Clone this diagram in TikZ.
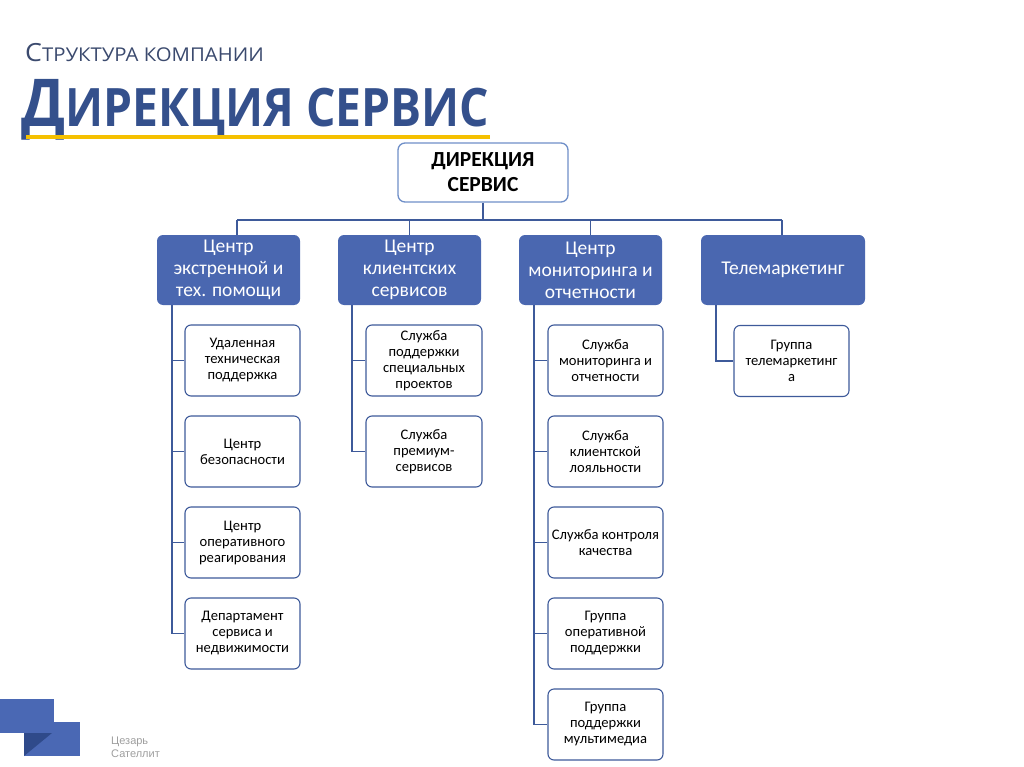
\documentclass[tikz,border=0pt]{standalone}
\usepackage{graphicx}
\usepackage{fontspec}
\setmainfont{Carlito}
\newfontfamily\titlefont{Open Sans}
\newfontfamily\logofont{Liberation Sans}
\definecolor{lvlblue}{HTML}{4A67B0}
\definecolor{linecol}{HTML}{3E5A9A}
\definecolor{topline}{HTML}{6F8FC8}
\definecolor{titleblue}{HTML}{34508C}
\definecolor{subtitle}{HTML}{3B4A6E}
\definecolor{yellowbar}{HTML}{F5C000}
\definecolor{logoA}{HTML}{4A68B4}
\definecolor{logoB}{HTML}{2F4A8A}
\begin{document}
\begin{tikzpicture}[x=1pt,y=-1pt,
  topbox/.style={draw=topline, line width=1.3pt, rounded corners=7pt, fill=white, align=center,
    minimum width=170pt, minimum height=59pt, inner sep=0pt,
    font=\fontsize{21.5}{25}\selectfont\bfseries},
  lvlbox/.style={fill=lvlblue, rounded corners=6pt, text=white, align=center,
    minimum height=70pt, inner sep=0pt, font=\fontsize{19.5}{22}\selectfont},
  kidbox/.style={draw=linecol, line width=1.1pt, rounded corners=6pt, fill=white, align=center,
    minimum width=115pt, minimum height=71pt, inner sep=0pt, font=\fontsize{14.6}{16}\selectfont},
  conn/.style={draw=linecol, line width=1.3pt}]
\useasboundingbox (0,0) rectangle (1024,767);

% title
\node[anchor=base west, inner sep=0pt, text=subtitle, font=\titlefont] (t1) at (25,62)
  {\scalebox{1.07}[1]{{\fontsize{25}{25}\selectfont С}{\fontsize{19}{19}\selectfont ТРУКТУРА КОМПАНИИ}}};
\node[anchor=base west, inner sep=0pt, text=titleblue, font=\titlefont\bfseries] (t2) at (21,127)
  {\scalebox{0.873}[1]{{\fontsize{66}{66}\selectfont Д}{\fontsize{53}{53}\selectfont ИРЕКЦИЯ СЕРВИС}}};
\fill[yellowbar] (26,135.5) rectangle (490,139.5);

% logo
\fill[logoA] (0,699) rectangle (54,733);
\fill[logoA] (24,722) rectangle (80,756);
\fill[logoB] (24,733) -- (52,733) -- (24,756) -- cycle;
\node[anchor=base west, inner sep=0pt, text=black!38, font=\logofont\fontsize{11}{13}\selectfont] (logo) at (111,744)
  {Цезарь};
\node[anchor=base west, inner sep=0pt, text=black!38, font=\logofont\fontsize{11}{13}\selectfont] (logo2) at (111,757)
  {Сателлит};

% top
\node[topbox] (top) at (483,172.5) {ДИРЕКЦИЯ\\СЕРВИС};

% level 1
\node[lvlbox, minimum width=143pt] (a) at (228.5,270) {Центр\\экстренной и\\тех. помощи};
\node[lvlbox, minimum width=143pt] (b) at (409.5,270) {Центр\\клиентских\\сервисов};
\node[lvlbox, minimum width=143pt] (c) at (590.5,270) {Центр\\мониторинга и\\отчетности};
\node[lvlbox, minimum width=164pt] (d) at (783,270) {Телемаркетинг};

% children
\node[kidbox] (a1) at (242.5,360.5) {Удаленная\\техническая\\поддержка};
\node[kidbox] (a2) at (242.5,451.5) {Центр\\безопасности};
\node[kidbox] (a3) at (242.5,542.5) {Центр\\оперативного\\реагирования};
\node[kidbox] (a4) at (242.5,633.5) {Департамент\\сервиса и\\недвижимости};

\node[kidbox, minimum width=116pt] (b1) at (424,360.5) {Служба\\поддержки\\специальных\\проектов};
\node[kidbox, minimum width=116pt] (b2) at (424,451.5) {Служба\\премиум-\\сервисов};

\node[kidbox] (c1) at (605.5,360.5) {Служба\\мониторинга и\\отчетности};
\node[kidbox] (c2) at (605.5,451.5) {Служба\\клиентской\\лояльности};
\node[kidbox] (c3) at (605.5,542.5) {Служба контроля\\качества};
\node[kidbox] (c4) at (605.5,633.5) {Группа\\оперативной\\поддержки};
\node[kidbox] (c5) at (605.5,724.5) {Группа\\поддержки\\мультимедиа};

\node[kidbox] (d1) at (791.5,361) {Группа\\телемаркетинг\\а};

% connectors level 0 -> 1
\coordinate (ja) at (237,220);
\coordinate (jd) at (782,220);
\draw[conn] (top.south) -- (top.south |- ja);
\draw[conn] (ja) -- (jd);
\draw[conn] (ja) -- (ja |- a.north);
\draw[conn] (b.north) -- (b.north |- ja);
\draw[conn] (c.north) -- (c.north |- ja);
\draw[conn] (jd) -- (jd |- d.north);

% connectors level 1 -> 2
\coordinate (sa) at (172,305);
\coordinate (sb) at (352,305);
\coordinate (sc) at (534,305);
\coordinate (sd) at (716,305);
\draw[conn] (sa) |- (a4.west);
\foreach \k in {a1,a2,a3} \draw[conn] (sa |- \k.west) -- (\k.west);
\draw[conn] (sb) |- (b2.west);
\draw[conn] (sb |- b1.west) -- (b1.west);
\draw[conn] (sc) |- (c5.west);
\foreach \k in {c1,c2,c3,c4} \draw[conn] (sc |- \k.west) -- (\k.west);
\draw[conn] (sd) |- (d1.west);
\end{tikzpicture}
\end{document}
